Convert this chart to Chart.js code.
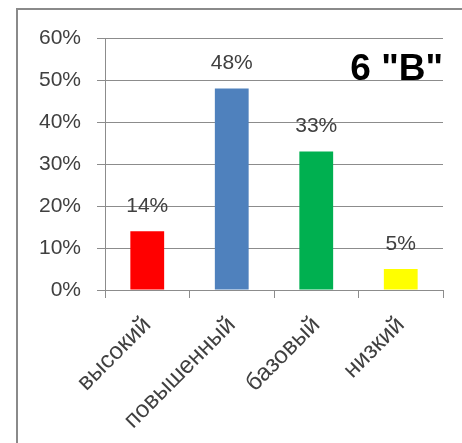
<!DOCTYPE html>
<html>
<head>
<meta charset="utf-8">
<script src="https://cdn.jsdelivr.net/npm/chart.js@4"></script>
<style>
    body { margin: 0; background: #fff; }
    #frame {
        position: absolute; left: 16px; top: 8px;
        width: 470px; height: 460px;
        border: 2px solid #8a8a8a;
    }
    #wrap { position: absolute; left: 0; top: 0; width: 462px; height: 443px; }
</style>
</head>
<body>
<div id="frame"></div>
<div id="wrap"><canvas id="chart"></canvas></div>
<script>
// data
const levels = ["высокий", "повышенный", "базовый", "низкий"];
const shares = [14, 48, 33, 5];
const barColors = ["#FF0000", "#4F81BD", "#00B050", "#FFFF00"];
const yTicks = [0, 10, 20, 30, 40, 50, 60];
const chartTitle = '6 "В"';

const fontFace = "'Liberation Sans', Arial, sans-serif";
const textColor = "#404040";
const lineColor = "#8c8c8c";

// value labels over the bars + the class name in the corner
const labelsPlugin = {
    id: "barLabels",
    afterDatasetsDraw(chart) {
        const ctx = chart.ctx;
        const meta = chart.getDatasetMeta(0);
        ctx.save();
        ctx.font = "21px " + fontFace;
        ctx.fillStyle = textColor;
        ctx.textAlign = "center";
        ctx.textBaseline = "alphabetic";
        meta.data.forEach((bar, i) => {
            ctx.fillText(shares[i] + "%", bar.x, bar.y - 19);
        });
        ctx.font = "bold 37px " + fontFace;
        ctx.fillStyle = "#000";
        ctx.textAlign = "right";
        ctx.fillText(chartTitle, chart.chartArea.right, 80);
        ctx.restore();
    }
};

const ctx = document.getElementById("chart").getContext("2d");
const chart = new Chart(ctx, {
    type: "bar",
    data: {
        labels: levels,
        datasets: [{
            data: shares,
            backgroundColor: barColors,
            borderWidth: 0,
            categoryPercentage: 1,
            barPercentage: 0.4
        }]
    },
    options: {
        responsive: true,
        maintainAspectRatio: false,
        animation: false,
        layout: { padding: { top: 38, right: 19, left: 0, bottom: 0 } },
        plugins: {
            legend: { display: false },
            tooltip: { enabled: false }
        },
        scales: {
            y: {
                min: 0,
                max: 60,
                afterFit: s => { s.width = 105; },
                afterBuildTicks: s => { s.ticks = yTicks.map(v => ({ value: v })); },
                ticks: {
                    callback: v => v + "%",
                    font: { size: 21, family: fontFace },
                    color: textColor,
                    padding: 16
                },
                grid: { color: lineColor, tickLength: 8 },
                border: { color: lineColor }
            },
            x: {
                afterFit: s => { s.height = 153; },
                ticks: {
                    font: { size: 24, family: fontFace },
                    color: textColor,
                    minRotation: 45,
                    maxRotation: 45,
                    padding: 13
                },
                grid: { offset: true, drawOnChartArea: false, color: lineColor, tickLength: 8 },
                border: { color: lineColor }
            }
        }
    },
    plugins: [labelsPlugin]
});
</script>
</body>
</html>
